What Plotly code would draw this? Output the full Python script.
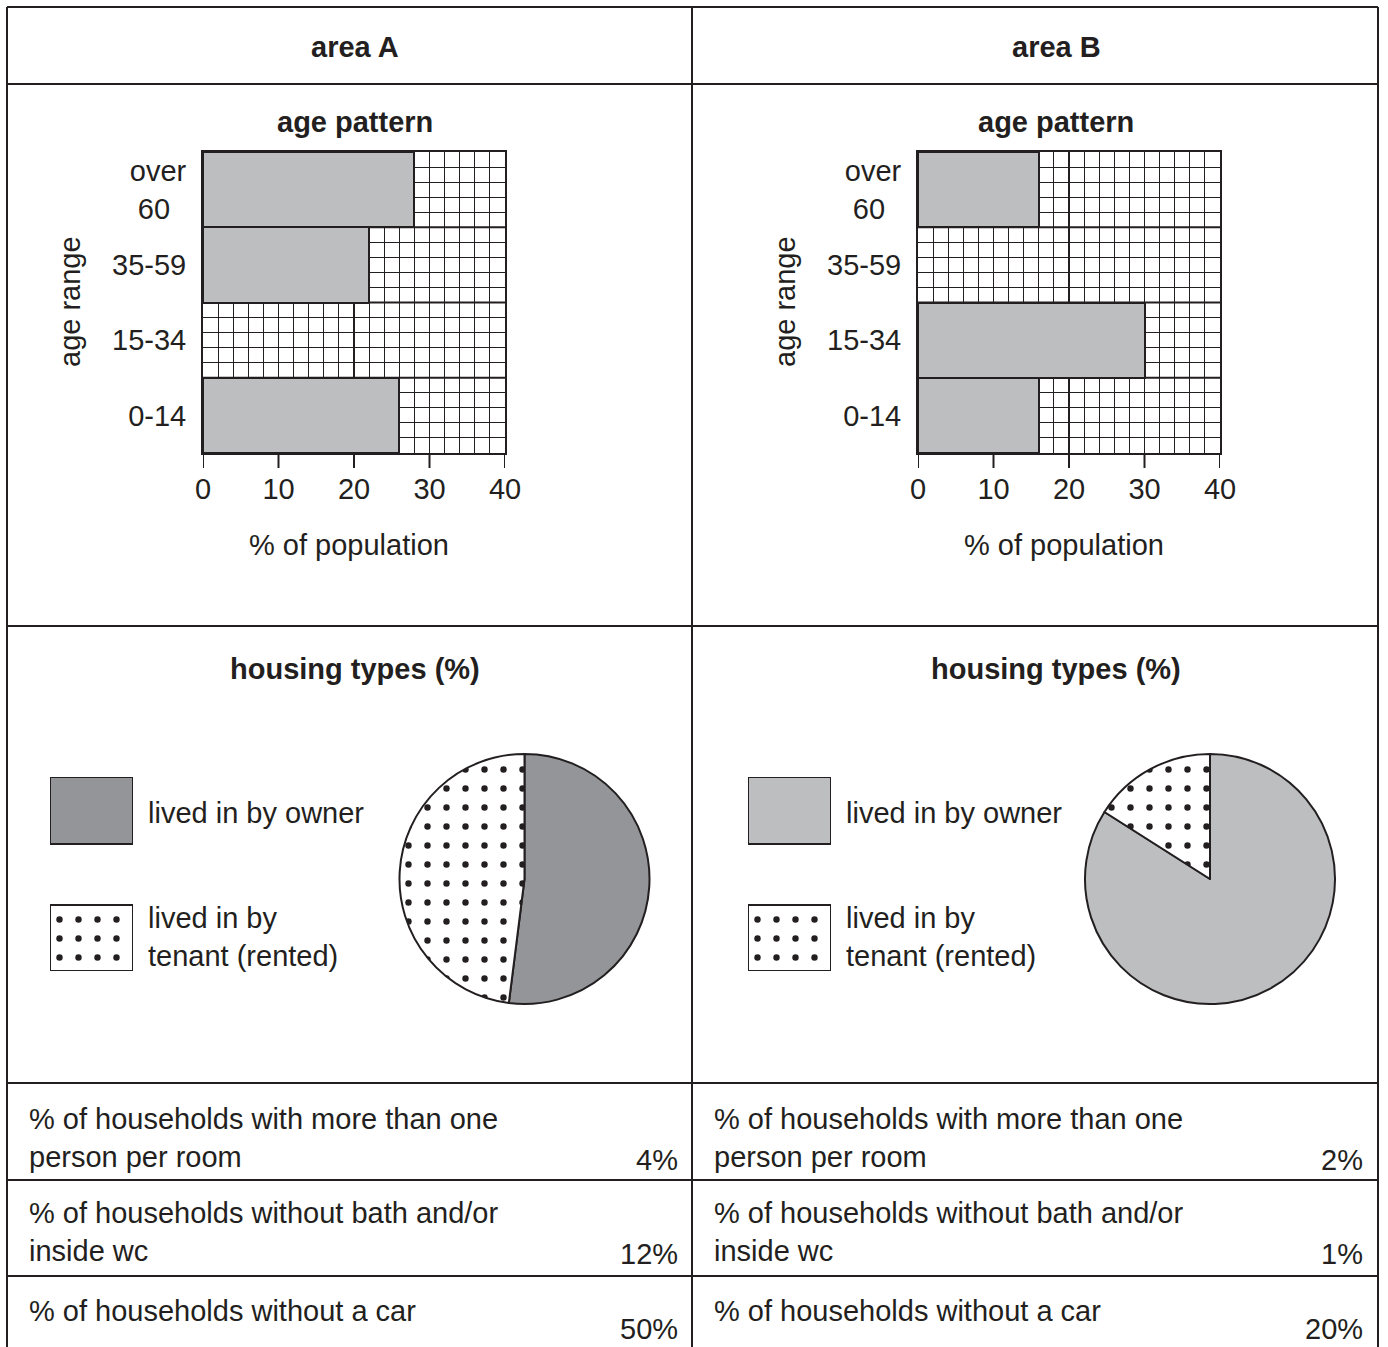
import plotly.graph_objects as go

W, H = 1388, 1347


def px(x):
    return x / W


def py(y):
    return 1 - y / H


# ---------------- data ----------------
age_groups = ['0-14', '15-34', '35-59', 'over 60']
age_tick_labels = ['0-14', '15-34', '35-59', 'over<br>60&nbsp;&nbsp;']
age_pct_A = [26, None, 22, 28]
age_pct_B = [16, 30, None, 16]
x_ticks = [0, 10, 20, 30, 40]
x_heavy = [20]

housing_types = ['lived in by owner', 'lived in by tenant (rented)']
housing_pct_A = [52, 48]
housing_pct_B = [84, 16]

indicator_labels = [
    '% of households with more than one<br>person per room',
    '% of households without bath and/or<br>inside wc',
    '% of households without a car',
]
indicator_A = ['4%', '12%', '50%']
indicator_B = ['2%', '1%', '20%']

# ---------------- styles ----------------
INK = '#231f20'
BAR_GREY = '#bcbec0'
OWNER_A = '#939598'
OWNER_B = '#bcbec0'
FONT = 'Liberation Sans, Arial, Helvetica, sans-serif'
FS = 29

fig = go.Figure()

ypos = [i + 0.5 for i in range(len(age_groups))]

# bars
for vals, xa, ya in [(age_pct_A, 'x', 'y'), (age_pct_B, 'x2', 'y2')]:
    fig.add_trace(go.Bar(
        x=vals, y=ypos, orientation='h', width=1,
        marker=dict(color=BAR_GREY, line=dict(color=INK, width=2)),
        xaxis=xa, yaxis=ya, showlegend=False, hoverinfo='skip'))

# pies
dot_pattern = dict(shape=['', '.'], fgcolor=INK, fgopacity=1, size=19, solidity=0.09)
for vals, col, cx in [(housing_pct_A, OWNER_A, 524.5), (housing_pct_B, OWNER_B, 1210)]:
    cy, r = 879, 125
    fig.add_trace(go.Pie(
        labels=housing_types, values=vals, sort=False, direction='clockwise',
        rotation=0, textinfo='none', hoverinfo='skip', showlegend=False,
        marker=dict(colors=[col, 'white'], line=dict(color=INK, width=2),
                    pattern=dot_pattern),
        domain=dict(x=[px(cx - r), px(cx + r)], y=[py(cy + r), py(cy - r)])))

# legend swatches (bars on hidden axes)
for col, xa, ya in [(OWNER_A, 'x3', 'y3'), (OWNER_B, 'x4', 'y4')]:
    fig.add_trace(go.Bar(x=[0.5], y=[0.345], base=[0.655], width=[1],
                         marker=dict(color=col, line=dict(color=INK, width=2)),
                         xaxis=xa, yaxis=ya, showlegend=False, hoverinfo='skip'))
    fig.add_trace(go.Bar(x=[0.5], y=[0.34], base=[0.0], width=[1],
                         marker=dict(color='white', line=dict(color=INK, width=2),
                                     pattern=dict(shape='.', fgcolor=INK, fgopacity=1,
                                                  fillmode='replace', bgcolor='white',
                                                  size=19, solidity=0.09)),
                         xaxis=xa, yaxis=ya, showlegend=False, hoverinfo='skip'))

tickfont = dict(family=FONT, size=FS, color=INK)


def bar_axes(x0, x1):
    xa = dict(domain=[px(x0), px(x1)], range=[0, 40], tickmode='array',
              tickvals=x_ticks, ticks='', showgrid=False, zeroline=False,
              showline=True, linecolor=INK, linewidth=2, mirror=True,
              tickfont=tickfont, ticklabelstandoff=9, fixedrange=True,
              automargin=False,
              minor=dict(tickmode='linear', tick0=0, dtick=2, showgrid=True,
                         gridcolor=INK, gridwidth=1, ticks=''))
    ya = dict(domain=[py(453), py(152)], range=[0, len(age_groups)],
              tickmode='array', tickvals=ypos, ticktext=age_tick_labels,
              ticks='', showgrid=False, zeroline=False, showline=True,
              linecolor=INK, linewidth=2, mirror=True, tickfont=tickfont,
              ticklabelstandoff=9, fixedrange=True, automargin=False,
              minor=dict(tickmode='linear', tick0=0, dtick=0.2, showgrid=True,
                         gridcolor=INK, gridwidth=1, ticks=''))
    return xa, ya


xa1, ya1 = bar_axes(203, 505)
xa2, ya2 = bar_axes(918, 1220)
xa1['anchor'] = 'y'
ya1['anchor'] = 'x'
xa2['anchor'] = 'y2'
ya2['anchor'] = 'x2'

hidden = dict(visible=False, range=[0, 1], fixedrange=True)

shapes = []

# heavier grid lines, and outside tick marks, placed through the axes' own scales
TICK_FRAC = 15 / 301
for xr, yr in [('x', 'y'), ('x2', 'y2')]:
    for v in x_heavy:
        shapes.append(dict(type='line', xref=xr, yref=yr + ' domain', x0=v, x1=v,
                           y0=0, y1=1, layer='below', line=dict(color=INK, width=2)))
    for b in range(1, len(age_groups)):
        shapes.append(dict(type='line', xref=xr + ' domain', yref=yr, x0=0, x1=1,
                           y0=b, y1=b, layer='below', line=dict(color=INK, width=2)))
    for t in x_ticks:
        shapes.append(dict(type='line', xref=xr, yref=yr + ' domain', x0=t, x1=t,
                           y0=0, y1=-TICK_FRAC, line=dict(color=INK, width=2)))


def hline(y, x0=7, x1=1378):
    shapes.append(dict(type='line', xref='paper', yref='paper', x0=px(x0), x1=px(x1),
                       y0=py(y), y1=py(y), line=dict(color=INK, width=2)))


def vline(x, y0=7, y1=1347):
    shapes.append(dict(type='line', xref='paper', yref='paper', x0=px(x), x1=px(x),
                       y0=py(y0), y1=py(y1), line=dict(color=INK, width=2)))


for y in [7, 84, 626, 1083, 1180, 1276]:
    hline(y)
for x in [7, 692, 1378]:
    vline(x)

ann = []


def text(x, y, s, anchor='center', bold=False, angle=0):
    ann.append(dict(xref='paper', yref='paper', x=px(x), y=py(y), text=s,
                    showarrow=False, xanchor=anchor, yanchor='middle',
                    align=anchor if anchor != 'center' else 'center',
                    textangle=angle,
                    font=dict(family=FONT, size=FS, color=INK,
                              weight='bold' if bold else 'normal')))


for cx, name in [(355, 'area A'), (1056, 'area B')]:
    text(cx, 47, name, bold=True)
    text(cx, 122, 'age pattern', bold=True)
    text(cx, 669, 'housing types (%)', bold=True)

for cx in [349, 1064]:
    text(cx, 545, '% of population')
for x in [70, 785]:
    text(x, 302, 'age range', angle=-90)

for lx in [146, 844]:
    text(lx, 813, housing_types[0], anchor='left')
    text(lx, 937, 'lived in by<br>tenant (rented)', anchor='left')

row_label_y = [1138, 1232, 1311]
row_value_y = [1160, 1254, 1329]
for i, lab in enumerate(indicator_labels):
    text(27, row_label_y[i], lab, anchor='left')
    text(712, row_label_y[i], lab, anchor='left')
    text(680, row_value_y[i], indicator_A[i], anchor='right')
    text(1365, row_value_y[i], indicator_B[i], anchor='right')

fig.update_layout(
    width=W, height=H, autosize=False,
    margin=dict(l=0, r=0, t=0, b=0, pad=0, autoexpand=False),
    paper_bgcolor='white', plot_bgcolor='white',
    barmode='overlay', bargap=0,
    font=dict(family=FONT, size=FS, color=INK),
    xaxis=xa1, yaxis=ya1, xaxis2=xa2, yaxis2=ya2,
    xaxis3=dict(hidden, domain=[px(50), px(133)], anchor='y3'),
    yaxis3=dict(hidden, domain=[py(971), py(777)], anchor='x3'),
    xaxis4=dict(hidden, domain=[px(748), px(831)], anchor='y4'),
    yaxis4=dict(hidden, domain=[py(971), py(777)], anchor='x4'),
    shapes=shapes, annotations=ann,
)

fig.write_html(
    'out.html',
    config={'displayModeBar': False},
    post_script=("document.body.style.margin='0';document.body.style.padding='0';"
                 "document.documentElement.style.overflow='hidden';"
                 "document.body.style.overflow='hidden';"),
)
